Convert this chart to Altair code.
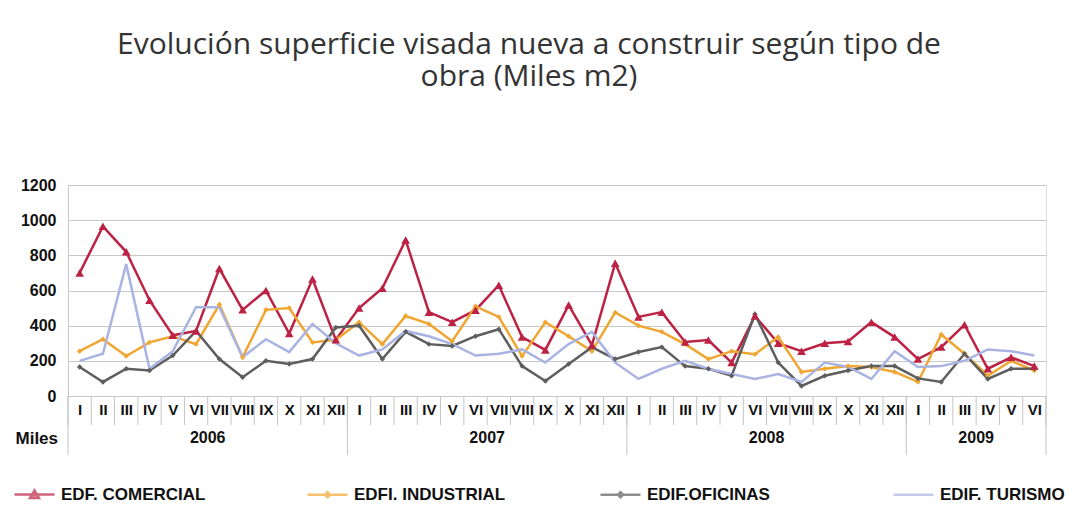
import altair as alt
import pandas as pd

# ---------------- data ----------------
months = ["I","II","III","IV","V","VI","VII","VIII","IX","X","XI","XII"] * 3 + ["I","II","III","IV","V","VI"]
years = ["2006", "2007", "2008", "2009"]
months_per_year = [12, 12, 12, 6]

series = ["EDF. COMERCIAL", "EDFI. INDUSTRIAL", "EDIF.OFICINAS", "EDIF. TURISMO"]
colors = ["#BC2243", "#F0A633", "#5E5E5E", "#A9B4E2"]

comercial = [700, 965, 820, 545, 345, 370, 725, 490, 600, 355, 665, 320,
             500, 613, 887, 477, 420, 488, 630, 335, 262, 517, 290, 755,
             450, 477, 307, 318, 190, 455, 300, 255, 300, 310, 420, 335,
             210, 278, 405, 155, 220, 170]
industrial = [255, 323, 227, 305, 340, 295, 520, 220, 490, 500, 305, 320,
              420, 295, 455, 410, 312, 510, 450, 227, 420, 340, 255, 475,
              400, 365, 295, 210, 255, 238, 335, 137, 155, 170, 165, 137,
              80, 350, 240, 115, 200, 145]
oficinas = [165, 80, 155, 145, 230, 370, 210, 107, 200, 182, 210, 390,
            400, 210, 365, 295, 285, 340, 380, 170, 85, 182, 278, 210,
            250, 278, 170, 155, 115, 465, 190, 57, 115, 145, 170, 170,
            100, 80, 240, 97, 155, 155]
turismo = [200, 240, 750, 155, 255, 505, 505, 220, 323, 250, 410, 300,
           230, 265, 370, 340, 295, 230, 240, 265, 190, 295, 365, 190,
           97, 155, 200, 155, 125, 97, 125, 80, 190, 165, 97, 255,
           165, 170, 200, 265, 255, 230]

y_ticks = [0, 200, 400, 600, 800, 1000, 1200]

# ---------------- tables ----------------
values = [comercial, industrial, oficinas, turismo]
rows = []
for s, vals in zip(series, values):
    for i, v in enumerate(vals):
        rows.append({"idx": i, "serie": s, "valor": v})
df = pd.DataFrame(rows)

n = len(months)
month_bounds = pd.DataFrame({"idx": [i - 0.5 for i in range(n + 1)]})
yb, yc, acc = [], [], 0
for y, k in zip(years, months_per_year):
    yb.append(acc - 0.5)
    yc.append({"year": y, "idx": acc + (k - 1) / 2})
    acc += k
yb.append(acc - 0.5)
year_bounds = pd.DataFrame({"idx": yb})
year_centers = pd.DataFrame(yc)

W, H = 978, 211
FONT = "Liberation Sans"

label_expr = "[" + ",".join("'%s'" % m for m in months) + "][datum.value]"

xscale = alt.Scale(domain=[-0.5, n - 0.5], nice=False, zero=False)
yscale = alt.Scale(domain=[0, 1200], nice=False)

x_axis = alt.Axis(values=list(range(n)), labelExpr=label_expr,
                  labelOverlap=False, labelFlush=False, labelBound=False,
                  ticks=False, domain=False, grid=False, title=None,
                  labelFontSize=15, labelFontWeight="bold", labelFont=FONT,
                  labelColor="#111", labelPadding=6)
y_axis = alt.Axis(values=y_ticks, format="d", labelOverlap=False,
                  labelFontSize=16, labelFontWeight="bold",
                  labelFont=FONT, labelColor="#111", labelPadding=12,
                  ticks=False, domain=True, domainColor="#C8C8C8",
                  gridColor="#C8C8C8", gridWidth=1,
                  title="Miles", titleAngle=0, titleAlign="left",
                  titleBaseline="middle", titleX=-53, titleY=H + 42,
                  titleFontSize=17, titleFontWeight="bold", titleFont=FONT,
                  titleColor="#111")

X = alt.X("idx:Q", scale=xscale, axis=x_axis)
Y = alt.Y("valor:Q", scale=yscale, axis=y_axis)

color_scale = alt.Scale(domain=series, range=colors)

base = alt.Chart(df)

lines = base.mark_line(strokeWidth=2.5).encode(
    x=X, y=Y,
    color=alt.Color("serie:N", scale=color_scale, legend=None),
    order=alt.Order("idx:Q"),
)

tri = base.transform_filter(alt.datum.serie == series[0]).mark_point(
    shape="triangle-up", filled=True, size=75, opacity=1
).encode(x=X, y=Y,
         color=alt.Color("serie:N", scale=color_scale, legend=None))

dia = base.transform_filter(
    (alt.datum.serie == series[1]) | (alt.datum.serie == series[2])
).mark_point(shape="diamond", filled=True, size=30, opacity=1).encode(
    x=X, y=Y,
    color=alt.Color("serie:N", scale=color_scale, legend=None))

legend_paths = [
    "M-1,0L1,0M-0.22,0.17L0,-0.2L0.22,0.17Z",
    "M-1,0L1,0M0,-0.13L0.13,0L0,0.13L-0.13,0Z",
    "M-1,0L1,0M0,-0.13L0.13,0L0,0.13L-0.13,0Z",
    "M-1,0L1,0",
]
leg = alt.Legend(title=None, orient="none", legendX=-55, legendY=H + 77,
                 direction="horizontal", columns=4, gridAlign="all",
                 columnPadding=89, symbolSize=1600, symbolStrokeWidth=2.5,
                 labelFontSize=17, labelFontWeight="bold", labelFont=FONT,
                 labelColor="#111", labelOffset=5, labelLimit=400)

legend_layer = base.transform_filter("false").mark_point(size=1600, filled=False, strokeWidth=2.5).encode(
    x=X, y=Y,
    stroke=alt.Stroke("serie:N", scale=alt.Scale(domain=series, range=colors), legend=leg),
    fill=alt.Fill("serie:N", scale=alt.Scale(domain=series, range=colors), legend=leg),
    shape=alt.Shape("serie:N", scale=alt.Scale(domain=series, range=legend_paths), legend=leg),
)

month_sep = alt.Chart(month_bounds).mark_rule(color="#C4C4C4", strokeWidth=1).encode(
    x=X, y=alt.value(H), y2=alt.value(H + 29))
year_sep = alt.Chart(year_bounds).mark_rule(color="#C4C4C4", strokeWidth=1).encode(
    x=X, y=alt.value(H), y2=alt.value(H + 59))
year_text = alt.Chart(year_centers).mark_text(
    fontSize=16, fontWeight="bold", font=FONT, color="#111", baseline="middle"
).encode(x=X, y=alt.value(H + 42), text="year:N")

chart = alt.layer(
    month_sep, year_sep, year_text, legend_layer, lines, dia, tri
).properties(
    width=W, height=H,
    autosize=alt.AutoSizeParams(type="none"),
    padding={"left": 60, "top": 177, "right": 30, "bottom": 110},
    title=alt.TitleParams(
        text=["Evolución superficie visada nueva a construir según tipo de",
              "obra (Miles m2)"],
        font="Open Sans", fontSize=30, fontWeight="normal", color="#333333",
        anchor="middle", dx=-28, offset=85, lineHeight=32),
).configure_view(stroke=None).configure(background="white")

chart.save("out.html", embed_options={"renderer": "svg", "actions": False})
